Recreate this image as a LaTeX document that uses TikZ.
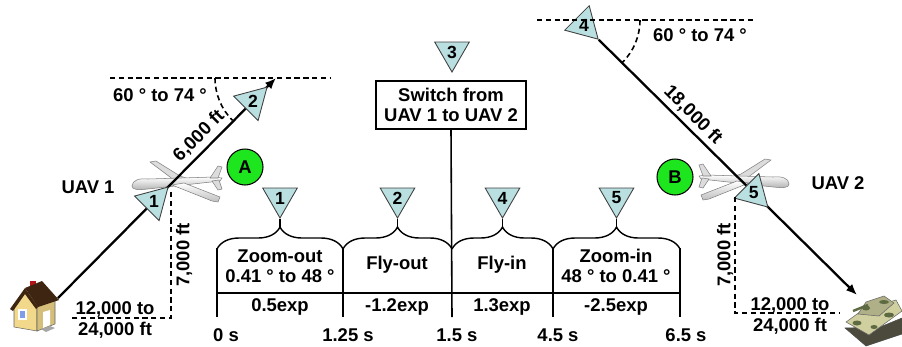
\documentclass[tikz,border=0pt]{standalone}
\usepackage{fontspec}
\setmainfont{Liberation Sans}
\usetikzlibrary{arrows.meta,shapes.geometric,decorations.pathreplacing}
\definecolor{Marker}{HTML}{B9DFE0}
\definecolor{Spot}{HTML}{1EE61E}
\definecolor{Wall}{HTML}{F1D88A}
\definecolor{Roof}{HTML}{3E2511}
\definecolor{Brick}{HTML}{B3161A}
\definecolor{Khaki}{HTML}{CFCFA0}
\definecolor{Olive}{HTML}{5E6A42}
\definecolor{Track}{HTML}{4B4A3C}
\definecolor{Hull}{HTML}{DCDCDC}

\tikzset{uav/.pic={
  \draw[gray,line width=0.3pt,fill=Hull] (-26,-18) -- (-20,-19) -- (4,-4) -- (10,-2) -- (-2,0) -- cycle;
  \draw[gray,line width=0.3pt,top color=white,bottom color=gray!60] (-44,6) .. controls (-44,0) and (-36,-2) .. (-28,-1) -- (38,-3) -- (46,-2) -- (44,1) -- (-28,9) .. controls (-38,10) and (-44,10) .. (-44,6) -- cycle;
  \draw[gray,line width=0.3pt,top color=white,bottom color=gray!50] (-4,5) -- (8,3) -- (44,17) -- (42,22) -- (36,21) -- cycle;
  \draw[gray,line width=0.3pt,fill=Hull] (34,-2) -- (42,-14) -- (46,-13) -- (42,-2) -- cycle (36,1) -- (42,10) -- (46,9) -- (43,0) -- cycle;
}}

\begin{document}
\begin{tikzpicture}[x=0.02cm,y=-0.02cm,font=\bfseries\fontsize{10.5}{11.5}\selectfont,marker/.style={regular polygon,regular polygon sides=3,draw=black!75,line width=0.5pt,fill=Marker,minimum size=0.8cm,inner sep=0pt,font=\bfseries\fontsize{10}{10}\selectfont},flight/.style={line width=1.3pt,-{Latex[length=2.2mm,width=1.8mm]}},guide/.style={line width=0.9pt,dash pattern=on 3pt off 2pt},spot/.style={circle,draw,line width=0.6pt,fill=Spot,minimum size=0.72cm,inner sep=0pt},phase/.style={line width=0.9pt},curly/.style={line width=0.8pt,decorate,decoration={brace,amplitude=0.44cm}}]
\useasboundingbox (0,0) rectangle (902,346);

% house
\draw[black!60,line width=0.3pt,fill=Wall] (14,306) -- (25,292) -- (37,305) -- (37,331) -- (14,327) -- cycle;
\draw[black!60,line width=0.3pt,fill=Wall!88!black] (37,305) -- (55,300) -- (55,324) -- (37,331) -- cycle;
\fill[Brick] (30,281) rectangle (36,290);
\fill[Roof] (25,288) -- (42,281) -- (59,300) -- (38,307) -- cycle;
\fill[Roof] (10,309) -- (25,288) -- (38,307) -- (36,309) -- (25,294) -- (13,311) -- cycle;
\draw[white,line width=0.6pt,fill=Marker!70!blue] (19,310) rectangle (26,319);
\fill[white] (43,312) -- (50,310) -- (50,325) -- (43,328) -- cycle;
\fill[gray!70] (41,329) -- (50,326) -- (55,328) -- (46,332) -- cycle;

% tank
\draw[black!70,line width=0.3pt,fill=Track] (845,328) -- (866,346) -- (902,334) -- (902,318) -- (880,327) -- cycle;
\draw[black!60,line width=0.3pt,fill=Khaki] (846,322) -- (864,309) -- (896,300) -- (902,311) -- (869,335) -- cycle;
\draw[black!60,line width=0.3pt,fill=Khaki!85!black] (858,314) -- (866,302) -- (884,296) -- (894,303) -- (879,316) -- cycle;
\draw[Olive,line width=1.4pt] (868,305) -- (853,311);
\fill[Olive] (866,308) ellipse (0.08cm and 0.05cm) (884,302) ellipse (0.1cm and 0.04cm) (857,323) ellipse (0.09cm and 0.05cm) (889,315) ellipse (0.1cm and 0.05cm) (874,327) ellipse (0.07cm and 0.04cm);

% the two aircraft
\pic at (176,180) {uav};
\pic[xscale=-1] at (745,178) {uav};

% outbound leg
\coordinate (home) at (58,298);
\coordinate (climb) at (276,78);
\draw[flight] (home) -- (climb) node[marker,pos=0.44,shape border rotate=-45] (m1) {1} node[marker,pos=0.894,shape border rotate=-45] (m2) {2};
\draw[guide] (110,78) -- (330,78);
\draw[guide] (215,78) arc[start angle=180,end angle=225,radius=1.2cm];
\draw[guide] (171,192) -- (171,318) -- (70,318);
\node at (160,95) {60 ° to 74 °};
\node[rotate=45] at (199,136) {6,000 ft};
\node[rotate=90] at (184,255) {7,000 ft};
\node[align=center] at (115,320) {12,000 to\\24,000 ft};
\node (uavA) at (88,187) {UAV 1};
\node[spot] (spotA) at (245,167) {A};

% inbound leg
\node[marker,shape border rotate=-135] (m4) at (584,25) {4};
\coordinate (strike) at (857,295);
\draw[guide] (537,20) -- (755,20);
\draw[guide] (640,20) arc[start angle=0,end angle=-45,radius=1.2cm];
\draw[flight] (m4.corner 1) -- (strike) node[marker,pos=0.6,shape border rotate=-135] (m5) {5};
\draw[guide] (735,197) -- (735,313) -- (840,313);
\node at (700,35) {60 ° to 74 °};
\node[rotate=-45] at (693,115) {18,000 ft};
\node[rotate=90] at (725,255) {7,000 ft};
\node[align=center] at (790,316) {12,000 to\\24,000 ft};
\node (uavB) at (838,183) {UAV 2};
\node[spot] (spotB) at (675,177) {B};

% timeline
\node[draw,line width=0.9pt,minimum width=3cm,minimum height=0.96cm,align=center,inner sep=1pt] (switch) at (451,105) {Switch from\\UAV 1 to UAV 2};
\node[marker,shape border rotate=180] (m3) at (452,52) {3};
\foreach \x/\t in {217/t0,343/t1,452/t2,553/t3,680/t4}
  \coordinate (\t) at (\x,317);
\draw[phase] (switch.south) -- (t2);
\foreach \t/\x in {t0/217,t1/343,t3/553,t4/680}
  \draw[phase] (\x,248) -- (\t);
\draw[phase] (t0|-0,293) -- (t4|-0,293);
\foreach \a/\b in {217/343,343/452,452/553,553/680}
  \draw[curly] (\a,249) -- (\b,249);
\foreach \x/\n in {280/1,397.5/2,502.5/4,616.5/5}{
  \node[marker,shape border rotate=180] (p\n) at (\x,198) {\n};
  \draw[line width=0.8pt] (p\n.corner 1) -- (\x,227);
}
\node[align=center] at (280,266) {Zoom-out\\0.41 ° to 48 °};
\node at (397,265) {Fly-out};
\node at (502,265) {Fly-in};
\node[align=center] at (616,266) {Zoom-in\\48 ° to 0.41 °};
\node at (280,307) {0.5exp};
\node at (397,307) {-1.2exp};
\node at (502,307) {1.3exp};
\node at (616,307) {-2.5exp};
\node at (226,335) {0 s};
\node at (348,335) {1.25 s};
\node at (457,335) {1.5 s};
\node at (558,335) {4.5 s};
\node at (686,335) {6.5 s};
\end{tikzpicture}
\end{document}
